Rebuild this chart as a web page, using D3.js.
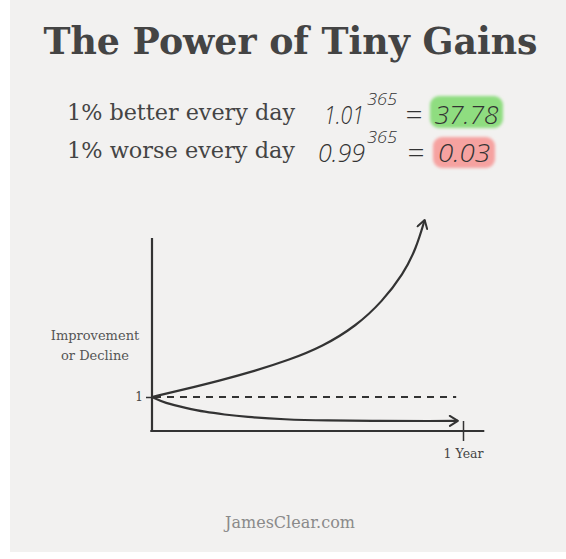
<!DOCTYPE html>
<html><head><meta charset="utf-8">
<script src="https://cdn.jsdelivr.net/npm/d3@7"></script>
<style>html,body{margin:0;padding:0;background:#fff}</style>
</head><body><svg id="c" width="566" height="559"></svg>
<script>
// ---- data ----
const title = "The Power of Tiny Gains";
const rowLabels = ["1% better every day", "1% worse every day"];
const bases = ["1.01", "0.99"];
const exponents = ["365", "365"];
const results = ["37.78", "0.03"];
const resultColors = ["#8fdd80", "#f6a2a0"];
const betterDays = [0, 40, 80, 120, 160, 200, 240, 270, 295, 310, 320];
const betterValues = [1, 2.07, 3.2, 4.45, 5.9, 7.7, 10.5, 13.7, 17.4, 20.8, 24.6];
const worseDays = [0, 15, 40, 62, 85, 109, 156, 203, 268, 330, 359];
const worseValues = [1, 0.77, 0.58, 0.43, 0.33, 0.24, 0.14, 0.10, 0.08, 0.08, 0.09];
const baselineValue = 1;
const baselineEndDay = 357;
const yTicks = [1];
const xTicks = [365];
const xTickLabels = ["1 Year"];
const yAxisLabel = ["Improvement", "or Decline"];
const footer = "JamesClear.com";
const xAxisExtent = [-2, 390];
const yAxisTop = 22.2;

// ---- drawing ----
const svg = d3.select("#c");
svg.append("rect").attr("x", 10).attr("y", 0).attr("width", 556).attr("height", 552).attr("fill", "#f2f1f0");

const defs = svg.append("defs");
defs.append("filter").attr("id", "soft").attr("x", "-20%").attr("y", "-20%").attr("width", "140%").attr("height", "140%")
  .append("feGaussianBlur").attr("stdDeviation", 1.4);
defs.append("marker").attr("id", "arrow").attr("viewBox", "0 0 12 12")
  .attr("refX", 10).attr("refY", 6).attr("markerWidth", 12).attr("markerHeight", 12)
  .attr("markerUnits", "userSpaceOnUse").attr("orient", "auto")
  .append("path").attr("d", "M2,1 L10,6 L2,11").attr("fill", "none")
  .attr("stroke", "#333").attr("stroke-width", 2).attr("stroke-linecap", "round").attr("stroke-linejoin", "round");

const serif = "'DejaVu Serif', 'Liberation Serif', serif";
const hand = "'Open Sans', 'Noto Sans', sans-serif";

svg.append("text").attr("x", 290.5).attr("y", 54).attr("text-anchor", "middle")
  .attr("font-family", serif).attr("font-weight", "bold").attr("font-size", 38)
  .attr("fill", "#444").attr("textLength", 494).attr("lengthAdjust", "spacingAndGlyphs").text(title);

const rowY = [120, 158];
const baseX = [324, 318], baseW = [40, 47];
const eqX = [414, 416];
const boxes = [{x: 430, y: 96, w: 73, h: 32}, {x: 433, y: 137, w: 62, h: 31}];
const resW = [64, 52];
rowLabels.forEach((lab, i) => {
  const g = svg.append("g");
  g.append("text").attr("x", 67).attr("y", rowY[i]).attr("font-family", serif).attr("font-size", 22)
    .attr("fill", "#444").attr("textLength", 228).attr("lengthAdjust", "spacingAndGlyphs").text(lab);
  g.append("text").attr("x", baseX[i]).attr("y", rowY[i] + 4).attr("font-family", hand).attr("font-weight", 300)
    .attr("font-style", "italic").attr("font-size", 25).attr("fill", "#333")
    .attr("textLength", baseW[i]).attr("lengthAdjust", "spacingAndGlyphs").text(bases[i]);
  g.append("text").attr("x", 367).attr("y", rowY[i] - 15).attr("font-family", hand).attr("font-weight", 300)
    .attr("font-style", "italic").attr("font-size", 16).attr("fill", "#333")
    .attr("textLength", 30).attr("lengthAdjust", "spacingAndGlyphs").text(exponents[i]);
  g.append("text").attr("x", eqX[i]).attr("y", rowY[i] + 5).attr("text-anchor", "middle").attr("font-family", hand)
    .attr("font-weight", 300).attr("font-size", 30).attr("fill", "#333").text("=");
  const b = boxes[i];
  g.append("rect").attr("x", b.x).attr("y", b.y).attr("width", b.w).attr("height", b.h).attr("rx", 9)
    .attr("fill", resultColors[i]).attr("filter", "url(#soft)");
  g.append("text").attr("x", b.x + b.w / 2).attr("y", rowY[i] + 4).attr("text-anchor", "middle")
    .attr("font-family", hand).attr("font-weight", 300).attr("font-style", "italic").attr("font-size", 26)
    .attr("fill", "#333").attr("textLength", resW[i]).attr("lengthAdjust", "spacingAndGlyphs").text(results[i]);
});

// scales
const x = d3.scaleLinear().domain([0, 365]).range([152, 463]);
const y = d3.scaleLinear().domain([-0.3, 1, 25]).range([431, 397, 217]);
const ink = "#333";

// axes frame
svg.append("line").attr("x1", x(0)).attr("x2", x(0)).attr("y1", y(yAxisTop)).attr("y2", y.range()[0] + 1)
  .attr("stroke", ink).attr("stroke-width", 2.2);
svg.append("line").attr("x1", x(xAxisExtent[0])).attr("x2", x(xAxisExtent[1])).attr("y1", y.range()[0]).attr("y2", y.range()[0])
  .attr("stroke", ink).attr("stroke-width", 2.2);

const yAx = svg.append("g").attr("transform", `translate(${x(0)},0)`)
  .call(d3.axisLeft(y).tickValues(yTicks).tickSize(6).tickPadding(3).tickFormat(d3.format("d")));
yAx.select(".domain").remove();
yAx.selectAll("line").attr("stroke", ink).attr("stroke-width", 1.5);
yAx.selectAll("text").attr("font-family", serif).attr("font-size", 12).attr("fill", "#444");

const xAx = svg.append("g").attr("transform", `translate(0,${y.range()[0] - 10})`)
  .call(d3.axisBottom(x).tickValues(xTicks).tickSize(20).tickPadding(8).tickFormat((d, i) => xTickLabels[i]));
xAx.select(".domain").remove();
xAx.selectAll("line").attr("stroke", ink).attr("stroke-width", 1.5);
xAx.selectAll("text").attr("font-family", serif).attr("font-size", 12.5).attr("fill", "#444");

// axis label
svg.append("text").attr("text-anchor", "middle").attr("font-family", serif).attr("font-size", 13).attr("fill", "#555")
  .selectAll("tspan").data(yAxisLabel).join("tspan").attr("x", 95).attr("y", (d, i) => 340 + i * 20).text(d => d);

// baseline dashed
svg.append("line").attr("x1", x(0) + 2).attr("x2", x(baselineEndDay)).attr("y1", y(baselineValue)).attr("y2", y(baselineValue))
  .attr("stroke", ink).attr("stroke-width", 2).attr("stroke-dasharray", "7,6");

const line = d3.line().x(d => x(d[0])).y(d => y(d[1])).curve(d3.curveBasis);
svg.append("path").datum(d3.zip(betterDays, betterValues)).attr("d", line)
  .attr("fill", "none").attr("stroke", ink).attr("stroke-width", 2.2).attr("marker-end", "url(#arrow)");
svg.append("path").datum(d3.zip(worseDays, worseValues)).attr("d", line)
  .attr("fill", "none").attr("stroke", ink).attr("stroke-width", 2.2).attr("marker-end", "url(#arrow)");

svg.append("text").attr("x", 290).attr("y", 528).attr("text-anchor", "middle").attr("font-family", serif)
  .attr("font-size", 16).attr("fill", "#8a8a8a").text(footer);
</script></body></html>
